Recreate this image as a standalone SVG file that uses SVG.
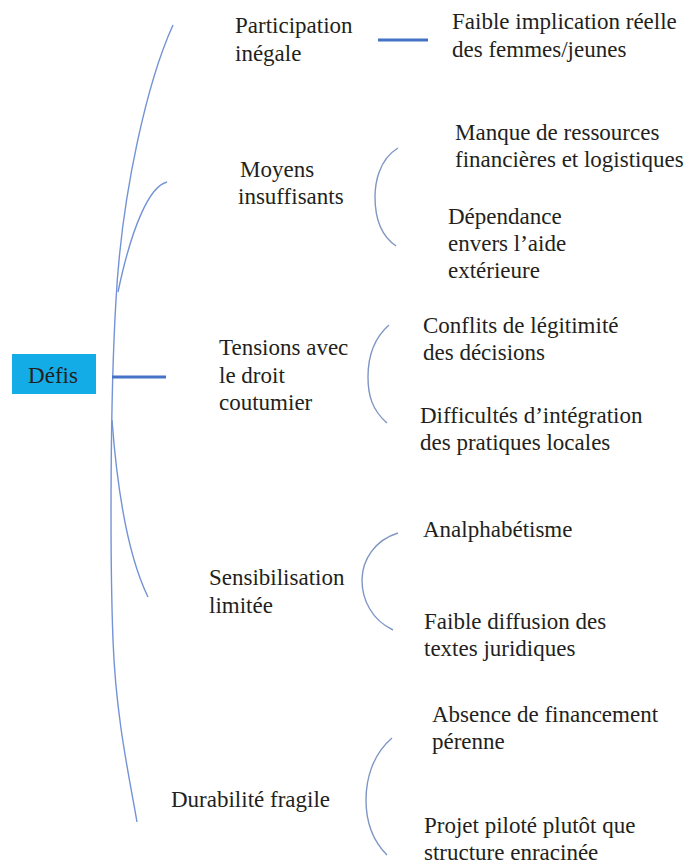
<svg xmlns="http://www.w3.org/2000/svg" width="693" height="864" viewBox="0 0 693 864">
<style>
text{font-family:"Liberation Serif","Times New Roman",serif;font-size:23px;fill:#231f20}
.curve{fill:none;stroke:#7393d6;stroke-width:1.4}
.brk{fill:none;stroke:#7f96c4;stroke-width:1.4}
.bar{fill:none;stroke:#4472c4;stroke-width:3}
</style>
<rect width="693" height="864" fill="#fff"/>
<g id="connectors">
<path class="curve" d="M173,25 C148,80 122,190 116,300 C110,400 110,560 113,640 C116,720 130,780 137,822"/>
<path class="curve" d="M167,182 C150,186 132,225 118,292"/>
<path class="curve" d="M112,420 C118,500 130,560 148,597"/>
<path class="bar" d="M112,377 H166"/>
<path class="bar" d="M378,40 H428"/>
<path class="brk" d="M398,148 C378,160 375,185 375,197 C375,215 380,235 396,246"/>
<path class="brk" d="M389,325 C372,340 368,360 368,377 C368,395 372,410 387,423"/>
<path class="brk" d="M398,533 C375,540 362,560 362,580 C362,600 372,620 393,630"/>
<path class="brk" d="M392,738 C372,755 366,780 366,800 C366,820 372,840 387,855"/>
</g>
<g id="defis"><rect x="12" y="354" width="84" height="40" fill="#14ace6"/><text x="53" y="383" text-anchor="middle" font-size="21">Défis</text></g>
<g id="participation"><text x="235" y="33">Participation</text><text x="235" y="61">inégale</text></g>
<g id="faible-implication"><text x="452" y="29">Faible implication réelle</text><text x="452" y="57">des femmes/jeunes</text></g>
<g id="moyens"><text x="240" y="177">Moyens</text><text x="238" y="204">insuffisants</text></g>
<g id="manque"><text x="455" y="140">Manque de ressources</text><text x="455" y="167">financières et logistiques</text></g>
<g id="dependance"><text x="448" y="224">Dépendance</text><text x="448" y="251">envers l’aide</text><text x="448" y="278">extérieure</text></g>
<g id="tensions"><text x="219" y="355">Tensions avec</text><text x="219" y="383">le droit</text><text x="219" y="410">coutumier</text></g>
<g id="conflits"><text x="423" y="333">Conflits de légitimité</text><text x="423" y="360">des décisions</text></g>
<g id="difficultes"><text x="420" y="423">Difficultés d’intégration</text><text x="420" y="450">des pratiques locales</text></g>
<g id="analphabetisme"><text x="423" y="537">Analphabétisme</text></g>
<g id="sensibilisation"><text x="209" y="585">Sensibilisation</text><text x="209" y="613">limitée</text></g>
<g id="faible-diffusion"><text x="424" y="629">Faible diffusion des</text><text x="424" y="656">textes juridiques</text></g>
<g id="absence"><text x="432" y="722">Absence de financement</text><text x="432" y="749">pérenne</text></g>
<g id="durabilite"><text x="171" y="807">Durabilité fragile</text></g>
<g id="projet"><text x="424" y="833">Projet piloté plutôt que</text><text x="424" y="860">structure enracinée</text></g>
</svg>
